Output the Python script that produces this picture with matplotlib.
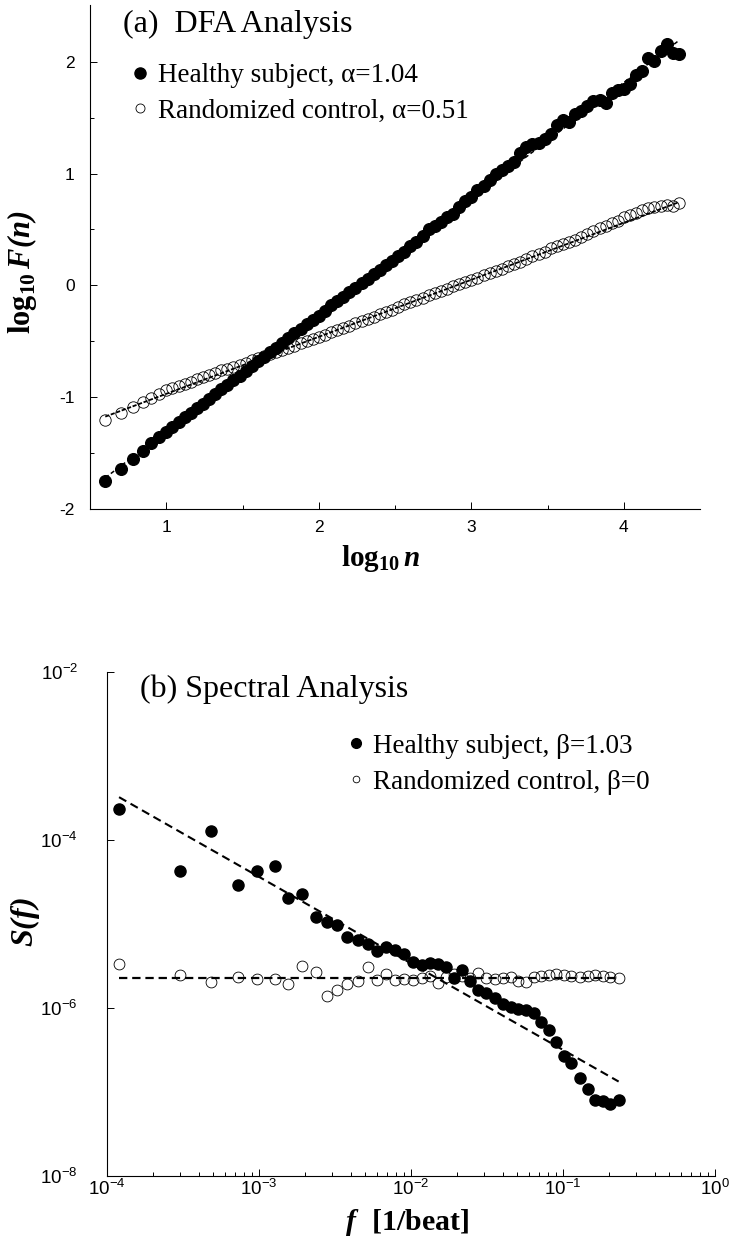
import matplotlib
matplotlib.use("Agg")
import matplotlib.pyplot as plt
from matplotlib.lines import Line2D
from matplotlib.font_manager import FontProperties
import numpy as np

plt.rcParams.update({
    "font.family": "Liberation Sans",
    "mathtext.fontset": "custom",
    "mathtext.rm": "Liberation Sans",
    "mathtext.it": "Liberation Sans:italic",
    "mathtext.bf": "Liberation Serif:bold",
    "mathtext.bfit": "Liberation Serif:italic:bold",
    "axes.unicode_minus": False,
    "lines.scale_dashes": False,
})

# ---------------- (a) DFA: log10 F(n) versus log10 n ----------------
log_n = [0.60, 0.70, 0.78, 0.85, 0.90, 0.95, 1.00, 1.04, 1.08, 1.12, 1.16, 1.20,
         1.24, 1.28, 1.32, 1.36, 1.40, 1.44, 1.48, 1.52, 1.56, 1.60, 1.64, 1.68,
         1.72, 1.76, 1.80, 1.84, 1.88, 1.92, 1.96, 2.00, 2.04, 2.08, 2.12, 2.16,
         2.20, 2.24, 2.28, 2.32, 2.36, 2.40, 2.44, 2.48, 2.52, 2.56, 2.60, 2.64,
         2.68, 2.72, 2.76, 2.80, 2.84, 2.88, 2.92, 2.96, 3.00, 3.04, 3.08, 3.12,
         3.16, 3.20, 3.24, 3.28, 3.32, 3.36, 3.40, 3.44, 3.48, 3.52, 3.56, 3.60,
         3.64, 3.68, 3.72, 3.76, 3.80, 3.84, 3.88, 3.92, 3.96, 4.00, 4.04, 4.08,
         4.12, 4.16, 4.20, 4.24, 4.28, 4.32, 4.36]

logF_healthy = [-1.75, -1.64, -1.555, -1.48, -1.41, -1.36, -1.31, -1.27, -1.22, -1.18,
                -1.14, -1.10, -1.06, -1.02, -0.97, -0.93, -0.89, -0.85, -0.81, -0.77,
                -0.72, -0.68, -0.64, -0.60, -0.56, -0.52, -0.47, -0.43, -0.39, -0.35,
                -0.31, -0.27, -0.23, -0.18, -0.14, -0.10, -0.06, -0.02, 0.02, 0.06,
                0.10, 0.14, 0.18, 0.22, 0.26, 0.30, 0.35, 0.39, 0.44, 0.50,
                0.53, 0.57, 0.61, 0.64, 0.70, 0.75, 0.79, 0.85, 0.89, 0.94,
                1.00, 1.03, 1.07, 1.10, 1.18, 1.24, 1.26, 1.27, 1.31, 1.35,
                1.43, 1.48, 1.46, 1.53, 1.56, 1.60, 1.65, 1.66, 1.63, 1.72,
                1.75, 1.76, 1.80, 1.88, 1.92, 2.03, 2.01, 2.10, 2.16, 2.08, 2.07]

logF_random = [-1.205, -1.145, -1.09, -1.04, -1.005, -0.97, -0.94, -0.92, -0.90, -0.88,
               -0.86, -0.84, -0.82, -0.80, -0.78, -0.76, -0.75, -0.73, -0.71, -0.69,
               -0.67, -0.65, -0.63, -0.61, -0.60, -0.58, -0.56, -0.54, -0.52, -0.50,
               -0.48, -0.46, -0.44, -0.42, -0.40, -0.38, -0.36, -0.34, -0.32, -0.30,
               -0.28, -0.26, -0.24, -0.22, -0.19, -0.17, -0.15, -0.13, -0.11, -0.09,
               -0.07, -0.05, -0.03, -0.01, 0.01, 0.03, 0.05, 0.07, 0.09, 0.11,
               0.13, 0.15, 0.17, 0.19, 0.21, 0.24, 0.26, 0.28, 0.30, 0.33,
               0.35, 0.37, 0.39, 0.41, 0.43, 0.46, 0.49, 0.51, 0.53, 0.56,
               0.58, 0.61, 0.63, 0.65, 0.67, 0.69, 0.70, 0.71, 0.72, 0.71, 0.74]

alpha_healthy, icpt_healthy = 1.04, -2.345
alpha_random, icpt_random = 0.51, -1.48

# ---------------- (b) power spectra S(f) ----------------
freq = [1.20e-4, 3.01e-4, 4.84e-4, 7.24e-4, 9.64e-4, 1.265e-3, 1.563e-3, 1.914e-3,
        2.366e-3, 2.805e-3, 3.266e-3, 3.819e-3, 4.508e-3, 5.248e-3, 5.957e-3,
        6.823e-3, 7.852e-3, 8.995e-3, 1.030e-2, 1.175e-2, 1.327e-2, 1.510e-2,
        1.706e-2, 1.914e-2, 2.153e-2, 2.427e-2, 2.767e-2, 3.119e-2, 3.548e-2,
        4.018e-2, 4.519e-2, 5.070e-2, 5.715e-2, 6.427e-2, 7.211e-2, 8.147e-2,
        9.057e-2, 0.1012, 0.1135, 0.1288, 0.1452, 0.1633, 0.1824, 0.2046, 0.2323]

S_healthy = [2.366e-4, 4.236e-5, 1.279e-4, 2.884e-5, 4.276e-5, 4.898e-5, 2.061e-5,
             2.301e-5, 1.211e-5, 1.057e-5, 9.66e-6, 7.00e-6, 6.40e-6, 5.85e-6,
             4.78e-6, 5.32e-6, 4.86e-6, 4.45e-6, 3.53e-6, 3.22e-6, 3.44e-6, 3.31e-6,
             3.08e-6, 2.30e-6, 2.81e-6, 2.09e-6, 1.63e-6, 1.51e-6, 1.33e-6, 1.11e-6,
             1.03e-6, 9.84e-7, 9.57e-7, 8.71e-7, 6.81e-7, 5.42e-7, 3.94e-7, 2.66e-7,
             2.21e-7, 1.48e-7, 1.10e-7, 8.13e-8, 7.76e-8, 7.14e-8, 7.94e-8]

S_random = [3.31e-6, 2.45e-6, 2.04e-6, 2.34e-6, 2.24e-6, 2.21e-6, 1.91e-6, 3.16e-6,
            2.69e-6, 1.41e-6, 1.62e-6, 1.95e-6, 2.09e-6, 3.05e-6, 2.14e-6, 2.57e-6,
            2.14e-6, 2.24e-6, 2.14e-6, 2.29e-6, 2.40e-6, 2.00e-6, 2.34e-6, 2.51e-6,
            2.40e-6, 2.29e-6, 2.60e-6, 2.29e-6, 2.19e-6, 2.29e-6, 2.34e-6, 2.09e-6,
            2.04e-6, 2.34e-6, 2.40e-6, 2.45e-6, 2.57e-6, 2.45e-6, 2.40e-6, 2.32e-6,
            2.40e-6, 2.45e-6, 2.40e-6, 2.32e-6, 2.29e-6]

beta_healthy, amp_healthy = 1.03, 10 ** -7.528
beta_random, amp_random = 0.0, 2.29e-6

labels_a = ["Healthy subject, \u03b1=1.04", "Randomized control, \u03b1=0.51"]
labels_b = ["Healthy subject, \u03b2=1.03", "Randomized control, \u03b2=0"]

serif = "Liberation Serif"

fig = plt.figure(figsize=(7.29, 12.39), dpi=100)

# ---------------- panel (a) ----------------
ax1 = fig.add_axes([0.1235, 0.5892, 0.837, 0.407])
x_fit = np.array([log_n[0], log_n[-1]])
ax1.plot(log_n, logF_random, ls="none", marker="o", ms=8.2, mfc="none",
         mec="black", mew=0.6, zorder=2)
ax1.plot(x_fit, alpha_random * x_fit + icpt_random, color="black", lw=1.3,
         dashes=(3, 1.2), zorder=3)
ax1.plot(x_fit, alpha_healthy * x_fit + icpt_healthy, color="black", lw=1.1,
         dashes=(3, 2), zorder=3)
ax1.plot(log_n, logF_healthy, ls="none", marker="o", ms=8.4, mfc="black",
         mec="black", zorder=4)

ax1.set_xlim(0.5, 4.5)
ax1.set_ylim(-2, 2.51)
ax1.set_xticks([1, 2, 3, 4])
ax1.set_xticks([1.5, 2.5, 3.5], minor=True)
ax1.set_yticks([-2, -1, 0, 1, 2])
ax1.set_yticks([-1.5, -0.5, 0.5, 1.5], minor=True)
ax1.tick_params(which="both", direction="in", width=0.7, labelsize=12.5)
ax1.tick_params(which="major", length=5)
ax1.tick_params(which="minor", length=3)
ax1.tick_params(axis="y", pad=11)
ax1.tick_params(axis="x", pad=8)
for s in ("top", "right"):
    ax1.spines[s].set_visible(False)
for s in ("left", "bottom"):
    ax1.spines[s].set_linewidth(0.8)

ax1.text(0.054, 0.946, "(a)  DFA Analysis", transform=ax1.transAxes,
         family=serif, fontsize=23, va="baseline", ha="left")

h_a = [Line2D([], [], ls="none", marker="o", ms=8, mfc="black", mec="black"),
       Line2D([], [], ls="none", marker="o", ms=6.5, mfc="none", mec="black", mew=0.6)]
ax1.legend(h_a, labels_a, loc="upper left", bbox_to_anchor=(0.0697, 0.884),
           frameon=False, prop=FontProperties(family=serif, size=19.5),
           handlelength=0.55, handletextpad=0.4, labelspacing=0.38,
           borderpad=0, borderaxespad=0)

fig.text(22 / 729, 1 - 272 / 1239, r"$\mathbf{log}_{\mathbf{10}}\,\mathbfit{F(n)}$",
         rotation=90, fontsize=22, ha="center", va="center")
fig.text(381 / 729, 1 - 558 / 1239, r"$\mathbf{log}_{\mathbf{10}}\,\mathbfit{n}$",
         fontsize=21, ha="center", va="center")

# ---------------- panel (b) ----------------
ax2 = fig.add_axes([0.1468, 0.0508, 0.834, 0.4068])
ax2.set_xscale("log")
ax2.set_yscale("log")
f_fit = np.array([freq[0], freq[-1]])
ax2.plot(freq, S_random, ls="none", marker="o", ms=7.8, mfc="none",
         mec="black", mew=0.6, zorder=2)
ax2.plot(f_fit, amp_random * f_fit ** (-beta_random), color="black", lw=1.6,
         dashes=(6, 3.5), zorder=3)
ax2.plot(f_fit, amp_healthy * f_fit ** (-beta_healthy), color="black", lw=1.5,
         dashes=(6, 3.5), zorder=3)
ax2.plot(freq, S_healthy, ls="none", marker="o", ms=8, mfc="black",
         mec="black", zorder=4)

ax2.set_xlim(1e-4, 1)
ax2.set_ylim(1e-8, 1e-2)
xt = [1e-4, 1e-3, 1e-2, 1e-1, 1e0]
ax2.set_xticks(xt, labels=[r"$10^{-4}$", r"$10^{-3}$", r"$10^{-2}$", r"$10^{-1}$", r"$10^{0}$"])
ax2.set_xticks([m * 10.0 ** e for e in range(-4, 0) for m in range(2, 10)], minor=True)
ax2.set_yticks([1e-8, 1e-6, 1e-4, 1e-2],
               labels=[r"$10^{-8}$", r"$10^{-6}$", r"$10^{-4}$", r"$10^{-2}$"])
ax2.set_yticks([], minor=True)
ax2.tick_params(which="both", direction="in", width=0.7, labelsize=13.5)
ax2.tick_params(which="major", length=5)
ax2.tick_params(which="minor", length=3)
ax2.tick_params(axis="y", pad=21)
ax2.tick_params(axis="x", pad=2)
for s in ("top", "right"):
    ax2.spines[s].set_visible(False)
for s in ("left", "bottom"):
    ax2.spines[s].set_linewidth(0.8)

ax2.text(0.055, 0.950, "(b) Spectral Analysis", transform=ax2.transAxes,
         family=serif, fontsize=23, va="baseline", ha="left")

h_b = [Line2D([], [], ls="none", marker="o", ms=7, mfc="black", mec="black"),
       Line2D([], [], ls="none", marker="o", ms=4.8, mfc="none", mec="black", mew=0.6)]
ax2.legend(h_b, labels_b, loc="upper left", bbox_to_anchor=(0.397, 0.878),
           frameon=False, prop=FontProperties(family=serif, size=19.5),
           handlelength=0.55, handletextpad=0.35, labelspacing=0.42,
           borderpad=0, borderaxespad=0)

fig.text(25 / 729, 1 - 922 / 1239, r"$\mathbfit{S(f)}$",
         rotation=90, fontsize=23, ha="center", va="center")
fig.text(407 / 729, 1 - 1222 / 1239, r"$\mathbfit{f}\ \ \mathbf{[1/beat]}$",
         fontsize=21.5, ha="center", va="center")

fig.savefig("out.png", dpi=100)
